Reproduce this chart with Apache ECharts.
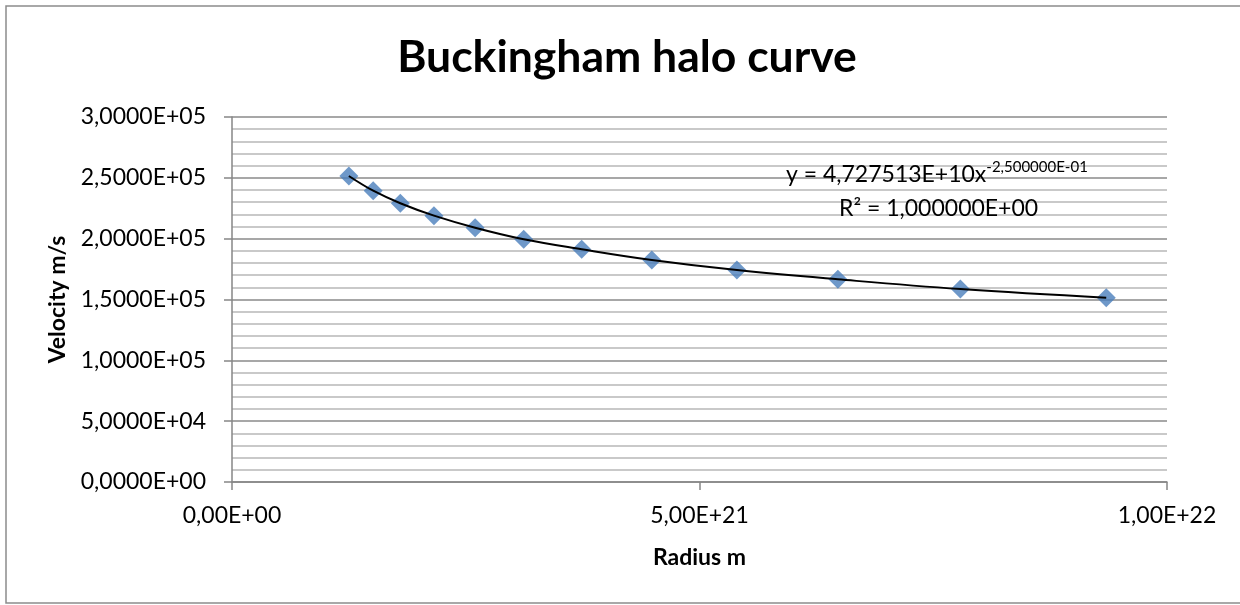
<!DOCTYPE html>
<html>
<head>
<meta charset="utf-8">
<script src="https://cdn.jsdelivr.net/npm/echarts@6/dist/echarts.min.js"></script>
<style>
  html, body { margin: 0; padding: 0; background: #fff; }
  #chart { width: 1240px; height: 605px; }
</style>
</head>
<body>
<div id="chart"></div>
<script>
// radius (m) and velocity (m/s)
const radius = [1.25e21, 1.51e21, 1.80e21, 2.16e21, 2.60e21, 3.12e21,
                3.74e21, 4.49e21, 5.40e21, 6.48e21, 7.79e21, 9.35e21];
const velocity = [251500, 239400, 229100, 218900, 209000, 199500,
                  191300, 182500, 174200, 166600, 158600, 151500];

const titleText = 'Buckingham halo curve';
const xName = 'Radius m';
const yName = 'Velocity m/s';
const eqMain = 'y = 4,727513E+10x';
const eqPow = '-2,500000E-01';
const eqR2 = 'R² = 1,000000E+00';

const FONT = 'Lato, "Open Sans", sans-serif';

// excel style exponent with comma decimal
function fmtExp(v, digits) {
  let s = Number(v).toExponential(digits);
  let parts = s.split('e');
  let sign = parts[1][0];
  let ex = parts[1].slice(1);
  if (ex.length < 2) ex = '0' + ex;
  return parts[0].replace('.', ',') + 'E' + sign + ex;
}

const points = radius.map((r, i) => [r, velocity[i]]);

let option = {
  animation: false,
  backgroundColor: '#fff',
  textStyle: { fontFamily: FONT },
  title: {
    text: titleText,
    left: 622,
    top: 30,
    textAlign: 'center',
    textStyle: { fontFamily: FONT, fontSize: 44.5, fontWeight: 'bold', color: '#000' }
  },
  grid: {
    left: 232,
    top: 117,
    right: 73,
    bottom: 123
  },
  xAxis: {
    type: 'value',
    min: 0,
    max: 1e22,
    interval: 5e21,
    name: xName,
    nameLocation: 'middle',
    nameGap: 64,
    nameTextStyle: { fontFamily: FONT, fontSize: 23, fontWeight: 'bold', color: '#000' },
    axisLine: { lineStyle: { color: '#868686', width: 1.5 } },
    axisTick: { show: true, length: 8, lineStyle: { color: '#868686', width: 1.5 } },
    axisLabel: {
      margin: 22,
      fontSize: 23,
      color: '#000',
      fontFamily: FONT,
      formatter: v => fmtExp(v, 2)
    },
    splitLine: { show: false }
  },
  yAxis: {
    type: 'value',
    min: 0,
    max: 300000,
    interval: 50000,
    name: yName,
    nameLocation: 'middle',
    nameGap: 163,
    nameRotate: 90,
    nameTextStyle: { fontFamily: FONT, fontSize: 23, fontWeight: 'bold', color: '#000' },
    axisLine: { show: true, lineStyle: { color: '#868686', width: 1.5 } },
    axisTick: { show: true, length: 8, lineStyle: { color: '#868686', width: 1.5 } },
    minorTick: { show: false, splitNumber: 5 },
    minorSplitLine: { show: true, lineStyle: { color: '#b8b8b8', width: 1.5 } },
    splitLine: { show: true, lineStyle: { color: '#8a8a8a', width: 1.5 } },
    axisLabel: {
      margin: 26,
      fontSize: 23,
      color: '#000',
      fontFamily: FONT,
      formatter: v => fmtExp(v, 4)
    }
  },
  series: [
    {
      // trend line
      type: 'line',
      data: points,
      smooth: 0.4,
      showSymbol: false,
      lineStyle: { color: '#000', width: 2 },
      z: 3
    },
    {
      type: 'scatter',
      data: points,
      symbol: 'diamond',
      symbolSize: [19, 19],
      itemStyle: { color: '#4a7ebb' },
      z: 2
    }
  ],
  graphic: [
    {
      type: 'rect',
      shape: { x: 6, y: 6, width: 1240, height: 597 },
      style: { fill: 'none', stroke: '#8c8c8c', lineWidth: 1.5 },
      silent: true
    },
    {
      type: 'text',
      left: 786,
      top: 160,
      style: {
        text: '{a|' + eqMain + '}{s|' + eqPow + '}',
        rich: {
          a: { fontSize: 23, fontFamily: FONT, fill: '#000' },
          s: { fontSize: 15, fontFamily: FONT, fill: '#000', padding: [0, 0, 15, 0] }
        }
      },
      z: 10
    },
    {
      type: 'text',
      left: 839,
      top: 197,
      style: { text: eqR2, fontSize: 23, fontFamily: FONT, fill: '#000' },
      z: 10
    }
  ]
};

let myChart = echarts.init(document.getElementById('chart'));
myChart.setOption(option);
</script>
</body>
</html>
